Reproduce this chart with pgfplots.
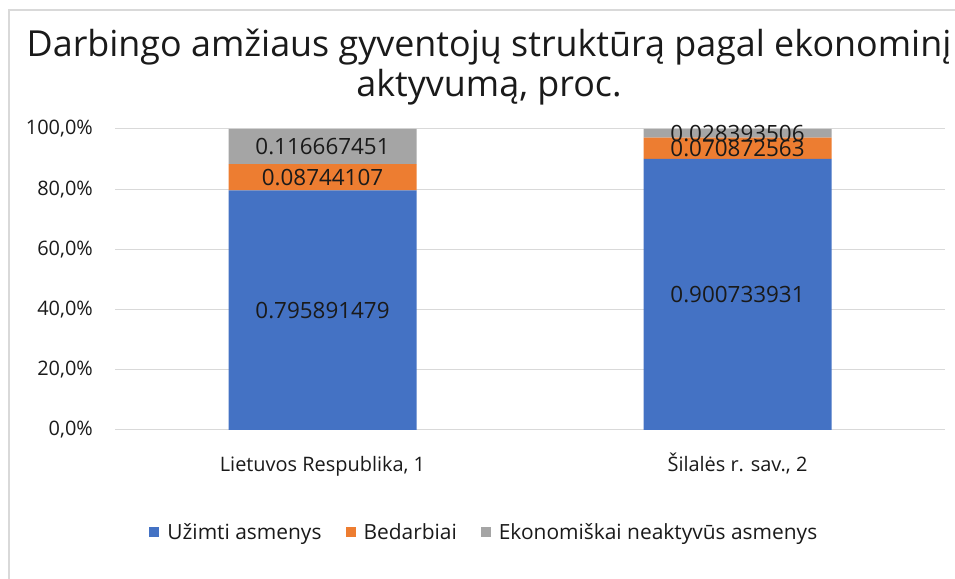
\documentclass[border=0pt]{standalone}
\usepackage{fontspec}
\setmainfont{Open Sans}
\usepackage{pgfplots}
\pgfplotsset{compat=1.18}
\definecolor{cblue}{HTML}{4472C4}
\definecolor{corange}{HTML}{ED7D31}
\definecolor{cgray}{HTML}{A5A5A5}
\definecolor{grid}{HTML}{D9D9D9}
\definecolor{txt}{HTML}{1A1A1A}
\begin{document}
\begin{tikzpicture}
\useasboundingbox (0,0) rectangle (955bp,579bp);
\fill[white] (0,0) rectangle (955bp,579bp);
\draw[line width=1.2bp, color=grid] (9bp,0) -- (9bp,569bp) -- (955bp,569bp);
\node[anchor=base, font=\fontsize{36}{40}\selectfont, text=txt, inner sep=0pt] at (489bp,522bp) {Darbingo amžiaus gyventojų struktūrą pagal ekonominį};
\node[anchor=base, font=\fontsize{36}{40}\selectfont, text=txt, inner sep=0pt] at (489bp,482bp) {aktyvumą, proc.};
\begin{axis}[
  at={(115bp,149bp)}, anchor=south west,
  scale only axis, width=830bp, height=301bp,
  ybar stacked, bar width=188bp,
  xmin=-0.5, xmax=1.5, ymin=0, ymax=1,
  axis line style={draw=none},
  major tick length=0pt,
  ymajorgrids, grid style={color=grid, line width=1bp},
  ytick={0,0.2,0.4,0.6,0.8,1},
  yticklabels={{0,0\%},{20,0\%},{40,0\%},{60,0\%},{80,0\%},{100,0\%}},
  yticklabel style={anchor=east, inner sep=0pt, xshift=-22bp, font=\fontsize{20}{22}\selectfont, text=txt},
  xtick={0,1},
  xticklabels={{Lietuvos Respublika, 1},{Šilalės r. sav., 2}},
  xticklabel style={anchor=base, inner sep=0pt, yshift=-41bp, font=\fontsize{20}{22}\selectfont, text=txt},
  legend columns=-1,
  legend style={at={(0.445,-0.339)}, anchor=center, draw=none, fill=none,
    font=\fontsize{21}{24}\selectfont, text=txt,
    /tikz/every odd column/.append style={column sep=6bp},
    /tikz/every even column/.append style={column sep=22bp}},
  legend image code/.code={\fill[#1] (0bp,-5bp) rectangle (10bp,5bp);},
]
\addplot[fill=cblue, draw=none] coordinates {(0,0.795891479) (1,0.900733931)};
\addplot[fill=corange, draw=none] coordinates {(0,0.08744107) (1,0.070872563)};
\addplot[fill=cgray, draw=none] coordinates {(0,0.116667451) (1,0.028393506)};
\legend{Užimti asmenys, Bedarbiai, Ekonomiškai neaktyvūs asmenys}
\coordinate (a1) at (axis cs:0,0.3979);
\coordinate (a2) at (axis cs:0,0.8396);
\coordinate (a3) at (axis cs:0,0.9417);
\coordinate (b1) at (axis cs:1,0.4504);
\coordinate (b2) at (axis cs:1,0.9362);
\coordinate (b3) at (axis cs:1,0.9858);
\end{axis}
\node[font=\fontsize{22.5}{24}\selectfont, text=txt] at (a1) {0.795891479};
\node[font=\fontsize{22.5}{24}\selectfont, text=txt] at (a2) {0.08744107};
\node[font=\fontsize{22.5}{24}\selectfont, text=txt] at (a3) {0.116667451};
\node[font=\fontsize{22.5}{24}\selectfont, text=txt] at (b1) {0.900733931};
\node[font=\fontsize{22.5}{24}\selectfont, text=txt] at (b2) {0.070872563};
\node[font=\fontsize{22.5}{24}\selectfont, text=txt] at (b3) {0.028393506};
\end{tikzpicture}
\end{document}
